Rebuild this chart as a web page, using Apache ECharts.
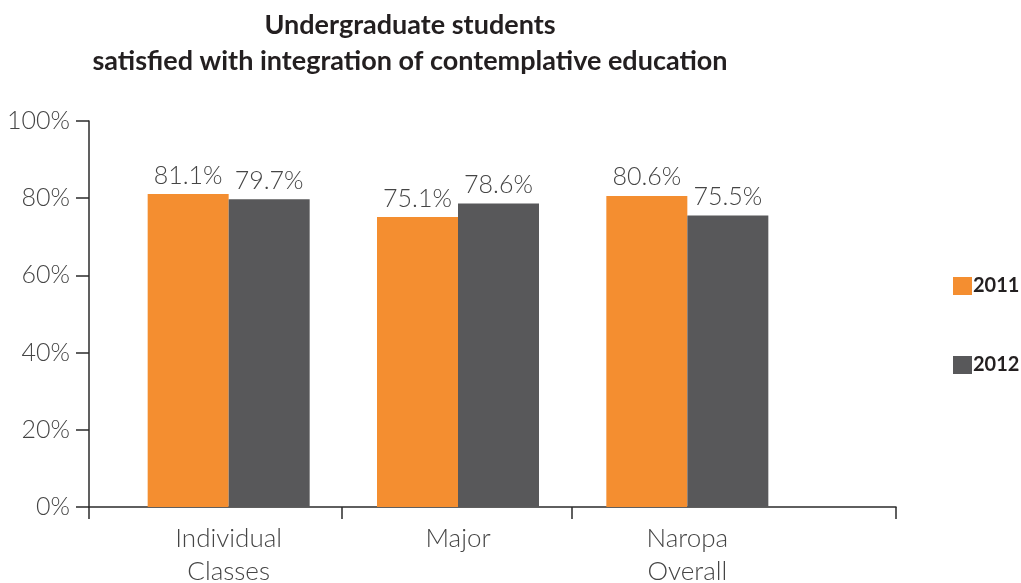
<!DOCTYPE html>
<html>
<head>
<meta charset="utf-8">
<script src="https://cdn.jsdelivr.net/npm/echarts@6/dist/echarts.min.js"></script>
<style>
html,body{margin:0;padding:0;background:#fff;}
#chart{width:1021px;height:583px;}
</style>
</head>
<body>
<div id="chart"></div>
<script>
const titleText = 'Undergraduate students\nsatisfied with integration of contemplative education';
const categories = ['Individual\nClasses', 'Major', 'Naropa\nOverall'];
const seriesNames = ['2011', '2012'];
const values2011 = [81.1, 75.1, 80.6];
const values2012 = [79.7, 78.6, 75.5];
const yMin = 0, yMax = 100, yStep = 20;

const FONT = 'Lato, "Open Sans", "Noto Sans", sans-serif';
const TEXT = '#454545';
const ORANGE = '#F48E30';
const GRAY = '#58585A';

const chart = echarts.init(document.getElementById('chart'), null, {renderer: 'canvas'});
const barLabel = {
  show: true, position: 'top', distance: 6,
  color: TEXT, fontFamily: FONT, fontSize: 25, fontWeight: 300,
  formatter: p => p.value.toFixed(1) + '%'
};
chart.setOption({
  animation: false,
  title: {
    text: titleText, left: 405, top: 2, textAlign: 'center',
    textStyle: {fontFamily: FONT, fontSize: 27, fontWeight: 'bold', color: '#231f20', lineHeight: 36}
  },
  legend: {
    orient: 'vertical', left: 948, top: 271, itemWidth: 19, itemHeight: 18, itemGap: 59,
    icon: 'rect', data: seriesNames,
    textStyle: {fontFamily: FONT, fontSize: 20, fontWeight: 'bold', color: '#231f20', padding: [0, 0, 0, -4]}
  },
  grid: [
    {left: 89, right: 125, top: 121, bottom: 76, containLabel: false, outerBoundsMode: 'none'},
    {left: 114, right: 219, top: 121, bottom: 76, containLabel: false, outerBoundsMode: 'none'}
  ],
  xAxis: [
    {
      gridIndex: 0, type: 'value', min: 0, max: 807,
      axisLine: {show: true, onZero: false, lineStyle: {color: '#2b2b2b', width: 1.5}},
      axisTick: {show: true, inside: false, length: 12, customValues: [0, 253, 483, 807], lineStyle: {color: '#2b2b2b', width: 1.5}},
      axisLabel: {show: false}, splitLine: {show: false}
    },
    {
      gridIndex: 1, type: 'category', data: categories,
      axisLine: {show: false}, axisTick: {show: false},
      axisLabel: {color: TEXT, fontFamily: FONT, fontSize: 26, fontWeight: 300, lineHeight: 33, margin: 15, interval: 0}
    }
  ],
  yAxis: [
    {
      gridIndex: 0, type: 'value', min: yMin, max: yMax, interval: yStep,
      axisLine: {show: true, lineStyle: {color: '#2b2b2b', width: 1.5}},
      axisTick: {show: true, length: 13, lineStyle: {color: '#2b2b2b', width: 1.5}},
      axisLabel: {formatter: '{value}%', color: TEXT, fontFamily: FONT, fontSize: 25, fontWeight: 300, margin: 19},
      splitLine: {show: false}
    },
    {gridIndex: 1, type: 'value', min: yMin, max: yMax, show: false}
  ],
  series: [
    {name: seriesNames[0], type: 'bar', xAxisIndex: 1, yAxisIndex: 1, data: values2011,
     barWidth: 81, barGap: '0%', itemStyle: {color: ORANGE}, label: barLabel},
    {name: seriesNames[1], type: 'bar', xAxisIndex: 1, yAxisIndex: 1, data: values2012,
     barWidth: 81, barGap: '0%', itemStyle: {color: GRAY}, label: barLabel}
  ]
});
</script>
</body>
</html>
